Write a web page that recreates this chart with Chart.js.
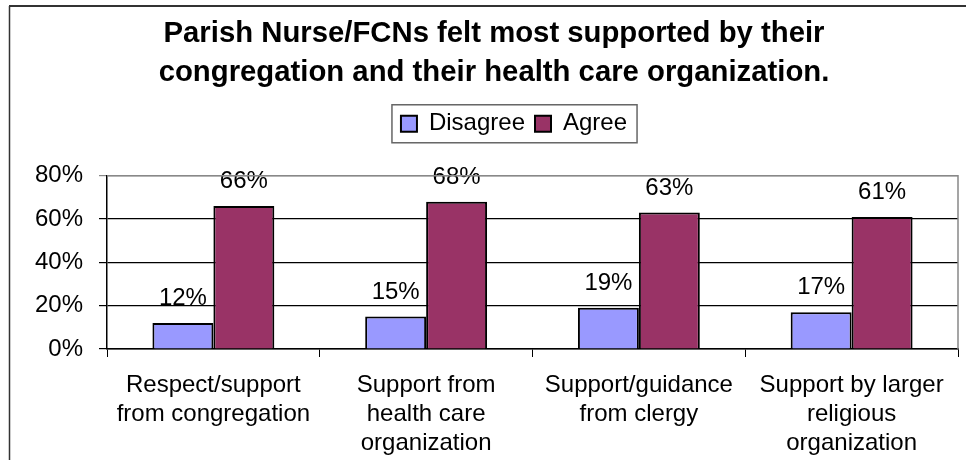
<!DOCTYPE html>
<html>
<head>
<meta charset="utf-8">
<script src="https://cdn.jsdelivr.net/npm/chart.js@4.4.1/dist/chart.umd.min.js"></script>
<style>
    html, body { margin: 0; padding: 0; background: #fff; }
    #wrap { width: 966px; height: 460px; position: relative; }
</style>
</head>
<body>
<div id="wrap"><canvas id="myChart" width="966" height="460"></canvas></div>
<script>
const labels = [
    ["Respect/support", "from congregation"],
    ["Support from", "health care", "organization"],
    ["Support/guidance", "from clergy"],
    ["Support by larger", "religious", "organization"]
]
const disagree = [12, 15, 19, 17]
const agree = [66, 68, 63, 61]
const yTicks = [0, 20, 40, 60, 80]

const police = "'Liberation Sans', Arial, sans-serif"

// fond blanc + bord du cadre (haut et gauche)
const cadre = {
    id: "cadre",
    beforeLayout(chart) {
        // plus d'espace sous la legende
        const lg = chart.legend
        if (lg && !lg._agrandie) {
            const fitOrig = lg.fit.bind(lg)
            lg.fit = function () {
                fitOrig()
                this.height += 30
            }
            lg._agrandie = true
        }
    },
    afterLayout(chart) {
        // decale titre et legende vers la droite comme dans l'original
        chart.titleBlock.left += 15
        chart.titleBlock.right += 15
        chart.legend.left += 35
        chart.legend.right += 35
    },
    beforeDraw(chart) {
        const ctx = chart.ctx
        ctx.save()
        ctx.fillStyle = "#fff"
        ctx.fillRect(0, 0, chart.width, chart.height)
        ctx.strokeStyle = "#333"
        ctx.lineWidth = 2
        ctx.beginPath()
        ctx.moveTo(9, 6)
        ctx.lineTo(chart.width, 6)
        ctx.stroke()
        ctx.lineWidth = 1.5
        ctx.beginPath()
        ctx.moveTo(9.5, 6)
        ctx.lineTo(9.5, chart.height)
        ctx.stroke()
        ctx.restore()
    },
    afterDraw(chart) {
        // cadre gris de la zone de tracé (haut + droite)
        const a = chart.chartArea
        const ctx = chart.ctx
        ctx.save()
        ctx.strokeStyle = "#888"
        ctx.lineWidth = 1.5
        ctx.beginPath()
        ctx.moveTo(a.left, a.top)
        ctx.lineTo(a.right, a.top)
        ctx.lineTo(a.right, a.bottom)
        ctx.stroke()
        // bord de la legende
        const boxes = chart.legend.legendHitBoxes
        if (boxes.length) {
            const x1 = boxes[0].left - 9
            const x2 = boxes[boxes.length - 1].left + boxes[boxes.length - 1].width + 10
            const yc = boxes[0].top + boxes[0].height / 2
            ctx.strokeStyle = "#666"
            ctx.lineWidth = 1.5
            ctx.strokeRect(x1, yc - 19, x2 - x1, 38)
        }
        ctx.restore()
    }
}

// valeurs au-dessus des barres
const etiquettes = {
    id: "etiquettes",
    afterDatasetsDraw(chart) {
        const ctx = chart.ctx
        ctx.save()
        ctx.font = "24px " + police
        ctx.fillStyle = "#000"
        ctx.textAlign = "center"
        ctx.textBaseline = "alphabetic"
        chart.data.datasets.forEach((ds, i) => {
            chart.getDatasetMeta(i).data.forEach((bar, j) => {
                ctx.fillText(ds.data[j] + "%", bar.x, bar.y - 18)
            })
        })
        ctx.restore()
    }
}

const data = {
    labels: labels,
    datasets: [
        {
            label: "Disagree",
            data: disagree,
            backgroundColor: "#9999FF",
            borderColor: "#000",
            borderWidth: 2
        },
        {
            label: "Agree",
            data: agree,
            backgroundColor: "#993366",
            borderColor: "#000",
            borderWidth: 2
        }
    ]
}

const config = {
    type: "bar",
    data: data,
    options: {
        responsive: false,
        animation: false,
        layout: { padding: { left: 0, right: 8, top: 0, bottom: 0 } },
        datasets: {
            bar: { categoryPercentage: 0.573, barPercentage: 1.0 }
        },
        plugins: {
            title: {
                display: true,
                text: [
                    "Parish Nurse/FCNs felt most supported by their",
                    "congregation and their health care organization."
                ],
                color: "#000",
                font: { family: police, size: 29.3, weight: "bold", lineHeight: 1.31 },
                padding: { top: 15, bottom: 10 }
            },
            legend: {
                display: true,
                position: "top",
                labels: {
                    color: "#000",
                    font: { family: police, size: 24 },
                    boxWidth: 16,
                    boxHeight: 16,
                    padding: 10
                }
            },
            tooltip: { enabled: false }
        },
        scales: {
            x: {
                grid: {
                    drawOnChartArea: false,
                    tickLength: 8,
                    color: "#000",
                    offset: true
                },
                border: { color: "#000", width: 1.5 },
                ticks: {
                    color: "#000",
                    font: { family: police, size: 24, lineHeight: 1.2 },
                    padding: 14,
                    maxRotation: 0,
                    autoSkip: false
                },
                afterFit(scale) { scale.height = 111 }
            },
            y: {
                min: 0,
                max: 80,
                afterBuildTicks(scale) { scale.ticks = yTicks.map(v => ({ value: v })) },
                grid: {
                    tickLength: 8,
                    color: ctx => ctx.tick && ctx.tick.value === 80 ? "#888" : "#000",
                    lineWidth: 1.2
                },
                border: { color: "#000", width: 1.5 },
                ticks: {
                    color: "#000",
                    font: { family: police, size: 24 },
                    padding: 16,
                    callback: v => v + "%"
                },
                afterFit(scale) { scale.width = 107 }
            }
        }
    },
    plugins: [cadre, etiquettes]
}

new Chart(document.querySelector("#myChart"), config)
</script>
</body>
</html>
